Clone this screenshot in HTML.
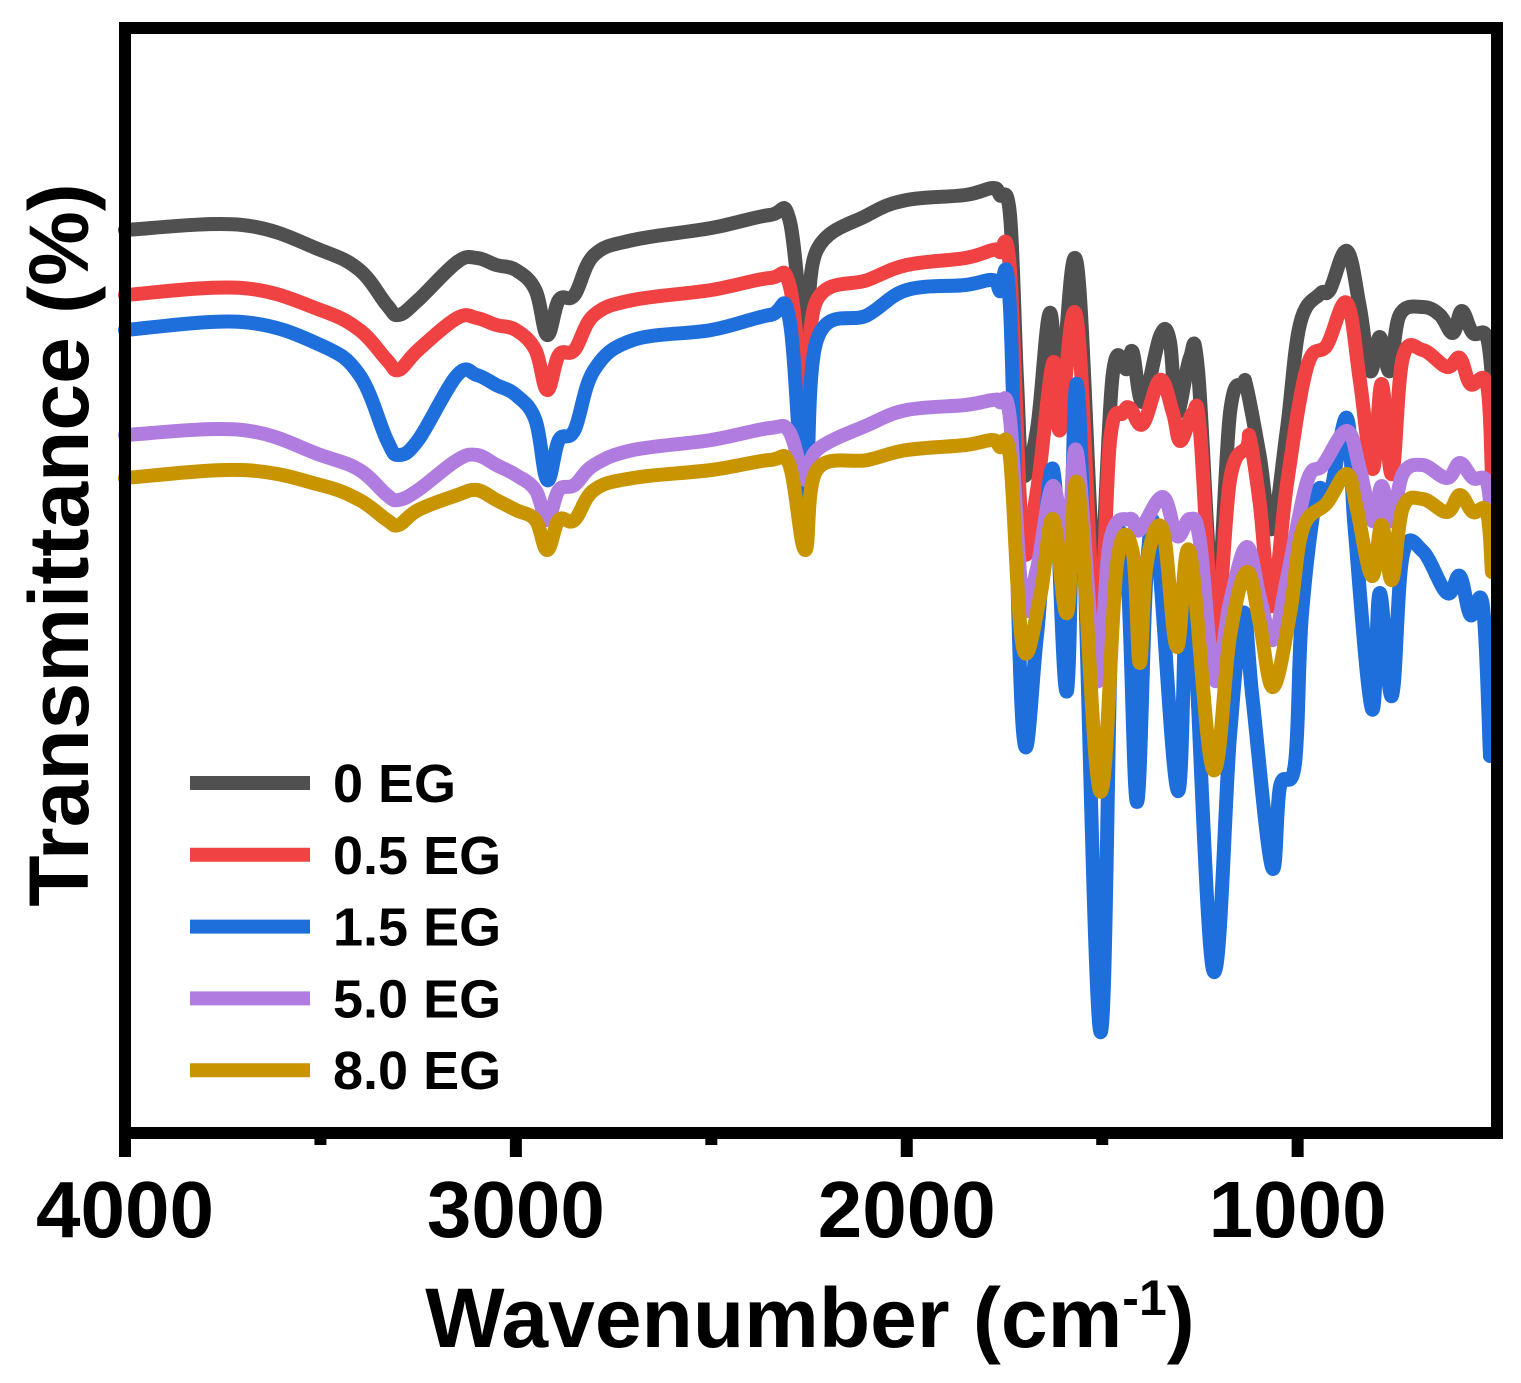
<!DOCTYPE html>
<html><head><meta charset="utf-8">
<style>
html,body{margin:0;padding:0;background:#fff;}
svg{display:block;font-family:"Liberation Sans",Arial,sans-serif;font-weight:bold;}
</style></head>
<body>
<svg id="chart" width="1521" height="1383" viewBox="0 0 1521 1383" xmlns="http://www.w3.org/2000/svg">
<g id="series"></g>
<rect x="125" y="28" width="1372" height="1105" fill="none" stroke="#000" stroke-width="12"/>
<g id="ticks"></g>
<text x="810" y="1347" font-size="84" text-anchor="middle">Wavenumber (cm<tspan dy="-32" font-size="50">-1</tspan><tspan dy="32">)</tspan></text>
<text transform="translate(88,545) rotate(-90)" font-size="84" text-anchor="middle">Transmittance (%)</text>
<g id="legend"></g>
</svg>
<script>
const seriesNames=["0 EG","0.5 EG","1.5 EG","5.0 EG","8.0 EG"];
const seriesColors=["#505050","#f04242","#1e6fdc","#b07ce0","#c89400"];
const leftWn=[4000,3700,3500,3400,3330,3300,3250,3150,3100,3050,3000,2950,2920,2890,2850,2800,2700,2500,2350,2300,2260,2230,2100,2000,1850,1780];
const wnBlack=[1762,1736,1718,1703,1667,1634,1608,1565,1514,1473,1437,1422,1396,1352,1327,1309,1276,1255,1212,1173,1140,1130,1097,1066,1028,994,943,918,874,841,815,790,764,739,680,636,603,580,552,516,500];
const tBlackL=[90.3,90.8,88.3,86.3,82.8,81.8,83.3,87.1,87.5,86.8,86.3,84.3,79.8,83.3,83.8,87.8,89.3,90.5,91.8,91.3,79.3,88.3,91.8,93.3,93.8,94.5];
const tBlackF=[93.8,91.8,75.3,65.9,70.3,82.0,73.3,87.0,53.3,75.9,76.4,78.1,73.1,79.7,79.2,72.0,77.5,76.3,52.0,72.0,74.8,74.5,67.7,60.4,70.2,80.9,83.9,84.3,88.2,82.6,76.2,79.6,76.2,81.8,82.6,81.8,80.0,82.2,80.0,79.6,74.1];
const wnRed=[1762,1736,1703,1667,1626,1608,1565,1514,1480,1447,1429,1396,1352,1319,1300,1268,1250,1212,1173,1130,1122,1097,1066,1028,976,925,874,841,808,785,759,731,680,618,585,558,516,503];
const tRedL=[83.8,84.5,82.3,80.3,77.3,76.3,78.3,81.5,81.5,80.8,80.3,78.3,74.3,77.8,78.3,81.8,83.3,84.3,85.5,84.8,73.3,83.3,85.3,86.8,87.5,88.3];
const tRedF=[88.1,86.4,59.2,64.2,77.0,70.3,81.4,48.1,69.2,72.0,72.5,70.9,75.3,72.0,69.2,72.0,70.3,49.7,65.3,68.6,69.4,63.0,52.7,64.7,76.6,78.8,83.0,75.3,66.4,74.9,65.9,77.5,78.3,76.6,77.5,74.9,74.9,65.9];
const wnBlue=[1762,1736,1703,1667,1626,1590,1562,1506,1473,1437,1411,1386,1360,1306,1276,1217,1173,1140,1115,1066,1045,1007,989,951,918,874,854,810,790,759,731,680,618,585,558,526,508];
const tBlueL=[80.3,81.1,78.8,75.8,69.3,67.8,69.3,75.8,75.8,74.8,73.8,71.3,65.3,69.3,70.3,76.3,79.3,80.3,81.8,81.3,63.3,79.3,81.8,84.3,84.8,85.3];
const tBlueF=[84.2,82.5,40.3,49.7,66.4,44.2,74.2,10.3,54.8,56.4,33.1,56.4,59.2,34.2,56.4,16.4,39.7,52.0,43.3,26.6,34.7,36.9,51.8,63.8,63.8,71.5,60.4,42.4,54.0,43.7,57.8,58.2,54.0,55.7,51.8,52.7,37.7];
const wnPurple=[1762,1736,1703,1667,1626,1590,1565,1514,1480,1429,1404,1345,1309,1276,1250,1212,1173,1130,1097,1063,1028,976,935,874,841,808,785,759,731,680,618,585,552,516,503];
const tPurpleL=[69.8,70.3,67.8,66.3,63.8,63.3,64.3,67.3,67.8,66.8,65.8,64.3,61.3,64.3,64.8,66.8,68.3,69.3,70.5,70.1,65.3,68.3,70.8,72.3,72.8,73.3];
const tPurpleF=[73.1,71.4,53.1,56.4,64.7,57.5,68.1,45.3,59.2,61.4,60.3,63.6,59.7,61.4,59.2,45.3,53.1,58.6,53.6,49.3,55.3,65.1,66.8,70.2,66.4,61.2,64.7,61.2,65.9,66.8,65.5,67.0,65.5,65.1,60.4];
const wnGold=[1762,1736,1703,1659,1626,1590,1562,1506,1462,1422,1404,1386,1345,1309,1276,1217,1173,1130,1097,1063,1020,987,925,874,849,810,785,759,731,680,618,585,552,516,503];
const tGoldL=[65.5,66.3,64.8,63.3,61.3,60.8,62.3,63.8,64.3,63.3,62.3,61.3,58.3,61.3,61.3,64.3,65.5,66.3,67.3,66.8,58.3,66.3,67.3,68.3,68.8,69.3];
const tGoldF=[68.6,67.5,48.6,53.6,61.4,52.0,64.7,34.2,57.0,58.1,47.0,57.0,60.3,48.6,58.1,36.4,49.7,56.1,51.0,44.6,51.8,60.4,63.0,65.9,62.5,55.7,60.8,55.3,62.5,63.4,62.1,63.8,62.1,62.1,56.1];
const xTicks=[4000,3000,2000,1000];
const xMinor=[3500,2500,1500];

const seriesWn=[wnBlack,wnRed,wnBlue,wnPurple,wnGold];
const seriesL=[tBlackL,tRedL,tBlueL,tPurpleL,tGoldL];
const seriesF=[tBlackF,tRedF,tBlueF,tPurpleF,tGoldF];

const X0=125,X1=1497,Y0=28,Y1=1133;
function xs(w){return X0+(4000-w)/(4000-490)*(X1-X0);}
function ys(v){return Y1-v/110.5*(Y1-Y0);}
function smoothPath(pts){
  let d='M'+pts[0][0].toFixed(1)+','+pts[0][1].toFixed(1);
  for(let i=0;i<pts.length-1;i++){
    const p0=pts[i-1]||pts[i],p1=pts[i],p2=pts[i+1],p3=pts[i+2]||p2;
    const t=0.18;
    const c1=[p1[0]+(p2[0]-p0[0])*t,p1[1]+(p2[1]-p0[1])*t];
    const c2=[p2[0]-(p3[0]-p1[0])*t,p2[1]-(p3[1]-p1[1])*t];
    d+='C'+c1[0].toFixed(1)+','+c1[1].toFixed(1)+' '+c2[0].toFixed(1)+','+c2[1].toFixed(1)+' '+p2[0].toFixed(1)+','+p2[1].toFixed(1);
  }
  return d;
}
const NS="http://www.w3.org/2000/svg";
const sg=document.getElementById('series');
seriesNames.forEach((n,i)=>{
  const wn=leftWn.concat(seriesWn[i]);
  const vals=seriesL[i].concat(seriesF[i]);
  const pts=vals.map((v,j)=>[xs(wn[j]),ys(v)]);
  const p=document.createElementNS(NS,'path');
  
  
  p.setAttribute('d',smoothPath(pts));
  p.setAttribute('fill','none');p.setAttribute('stroke',seriesColors[i]);
  p.setAttribute('stroke-width','14');p.setAttribute('stroke-linejoin','round');p.setAttribute('stroke-linecap','round');
  sg.appendChild(p);
});
const tg=document.getElementById('ticks');
xTicks.forEach(t=>{
  const l=document.createElementNS(NS,'line');
  
  
  l.setAttribute('x1',xs(t));l.setAttribute('x2',xs(t));l.setAttribute('y1',1133);l.setAttribute('y2',1157);
  l.setAttribute('stroke','#000');l.setAttribute('stroke-width','12');tg.appendChild(l);
  const tx=document.createElementNS(NS,'text');
  
  
  tx.setAttribute('x',xs(t));tx.setAttribute('y',1237);tx.setAttribute('font-size','80');
  tx.setAttribute('text-anchor','middle');tx.textContent=t;tg.appendChild(tx);
});
xMinor.forEach(t=>{
  const l=document.createElementNS(NS,'line');
  
  
  l.setAttribute('x1',xs(t));l.setAttribute('x2',xs(t));l.setAttribute('y1',1133);l.setAttribute('y2',1145);
  l.setAttribute('stroke','#000');l.setAttribute('stroke-width','12');tg.appendChild(l);
});
const lg=document.getElementById('legend');
seriesNames.forEach((n,i)=>{
  const y=783+i*71.8;
  const l=document.createElementNS(NS,'line');
  
  
  l.setAttribute('x1',190);l.setAttribute('x2',310);l.setAttribute('y1',y);l.setAttribute('y2',y);
  l.setAttribute('stroke',seriesColors[i]);l.setAttribute('stroke-width','14');lg.appendChild(l);
  const t=document.createElementNS(NS,'text');
  
  
  t.setAttribute('x',333);t.setAttribute('y',y+19);t.setAttribute('font-size','54');
  t.textContent=n;lg.appendChild(t);
});
</script>
</body></html>
